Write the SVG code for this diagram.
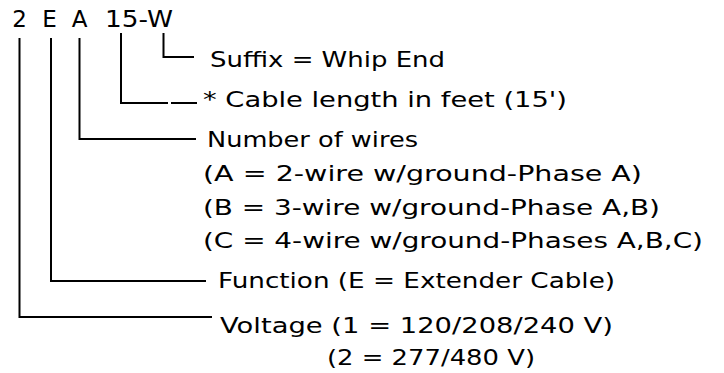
<svg xmlns="http://www.w3.org/2000/svg" width="724" height="373" viewBox="0 0 724 373">
<style>
  text { font-family: "DejaVu Sans", "Liberation Sans", sans-serif; fill: #000; }
  .code { font-size: 23px; }
  .lbl { font-size: 21px; }
  .conn { fill: none; stroke: #000; stroke-width: 2; stroke-linecap: butt; stroke-linejoin: miter; }
</style>
<rect width="724" height="373" fill="#fff"/>
<g id="code">
  <text class="code" x="19.5" y="27" text-anchor="middle">2</text>
  <text class="code" x="49.5" y="27" text-anchor="middle">E</text>
  <text class="code" x="79.5" y="27" text-anchor="middle">A</text>
  <text class="code" x="105" y="27" textLength="68" lengthAdjust="spacingAndGlyphs">15-W</text>
</g>
<g id="connectors">
  <path class="conn" d="M163.5,33 V57 H194"/>
  <path class="conn" d="M121,33 V103 H168 M171,103 H197"/>
  <path class="conn" d="M79.5,38 V139 H196"/>
  <path class="conn" d="M51,38 V281 H206"/>
  <path class="conn" d="M19.5,38 V317 H212"/>
</g>
<g id="suffix">
  <text class="lbl" x="210" y="67" textLength="235" lengthAdjust="spacingAndGlyphs">Suffix = Whip End</text>
</g>
<g id="length">
  <text class="lbl" x="203" y="107" textLength="364" lengthAdjust="spacingAndGlyphs">* Cable length in feet (15')</text>
</g>
<g id="wires">
  <text class="lbl" x="207" y="147" textLength="211" lengthAdjust="spacingAndGlyphs">Number of wires</text>
  <text class="lbl" x="203" y="181" textLength="439" lengthAdjust="spacingAndGlyphs">(A = 2-wire w/ground-Phase A)</text>
  <text class="lbl" x="203" y="215" textLength="457" lengthAdjust="spacingAndGlyphs">(B = 3-wire w/ground-Phase A,B)</text>
  <text class="lbl" x="203" y="248" textLength="500" lengthAdjust="spacingAndGlyphs">(C = 4-wire w/ground-Phases A,B,C)</text>
</g>
<g id="function">
  <text class="lbl" x="218" y="288" textLength="397" lengthAdjust="spacingAndGlyphs">Function (E = Extender Cable)</text>
</g>
<g id="voltage">
  <text class="lbl" x="220" y="333" textLength="393" lengthAdjust="spacingAndGlyphs">Voltage (1 = 120/208/240 V)</text>
  <text class="lbl" x="327" y="365" textLength="208" lengthAdjust="spacingAndGlyphs">(2 = 277/480 V)</text>
</g>
</svg>
